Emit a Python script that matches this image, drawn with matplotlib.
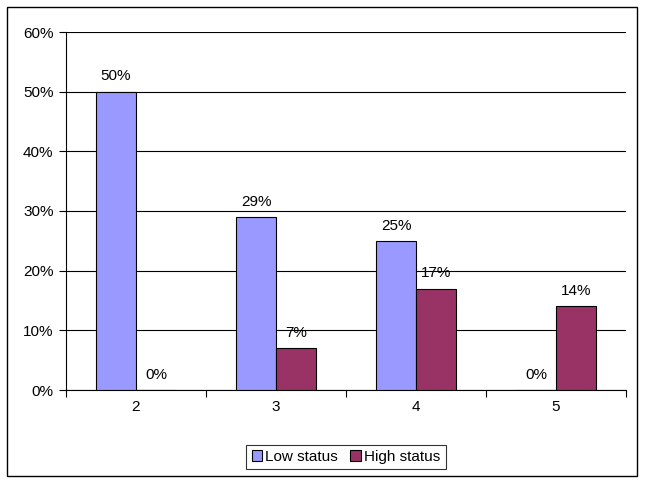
import numpy as np
import matplotlib.pyplot as plt
from matplotlib.patches import Rectangle

plt.rcParams['font.family'] = ['Liberation Sans', 'DejaVu Sans']

categories = ['2', '3', '4', '5']
low_status = [50, 29, 25, 0]
high_status = [0, 7, 17, 14]

fs = 11

fig = plt.figure(figsize=(6.45, 4.82), dpi=100)
ax = fig.add_axes([66/645, 1-390/482, 560/645, 358/482])

x = np.arange(len(categories))
w = 2/7
b1 = ax.bar(x - w/2, low_status, w, color='#9999FF', edgecolor='black', linewidth=0.8, label='Low status', zorder=3)
b2 = ax.bar(x + w/2, high_status, w, color='#993366', edgecolor='black', linewidth=0.8, label='High status', zorder=3)

for bars in (b1, b2):
    for r in bars:
        h = r.get_height()
        ax.annotate(f'{h:.0f}%', (r.get_x() + r.get_width()/2, h), xytext=(0, 6),
                    textcoords='offset points', ha='center', va='bottom', fontsize=fs)

ax.set_xlim(-0.5, 3.5)
ax.set_ylim(0, 60)
ax.set_yticks(range(0, 61, 10))
ax.set_yticklabels([f'{v}%' for v in range(0, 61, 10)], fontsize=fs)
ax.yaxis.grid(True, color='black', linewidth=0.8, zorder=0)
ax.set_axisbelow(True)

ax.set_xticks(x)
ax.set_xticklabels(categories, fontsize=fs)
ax.tick_params(axis='x', length=0, pad=7)
ax.set_xticks(np.arange(-0.5, 4, 1), minor=True)
ax.tick_params(axis='x', which='minor', length=5, direction='out', width=0.8)
ax.tick_params(axis='y', length=5, direction='out', width=0.8, pad=4)

for s in ('top', 'right'):
    ax.spines[s].set_visible(False)
for s in ('left', 'bottom'):
    ax.spines[s].set_linewidth(0.8)

leg = fig.legend(loc='center', bbox_to_anchor=(346/645, 1-457/482), ncol=2, fontsize=fs,
                 frameon=True, fancybox=False, edgecolor='black', handlelength=0.7, handleheight=0.7,
                 handletextpad=0.2, columnspacing=0.8, borderpad=0.35)
leg.get_frame().set_linewidth(0.8)

fig.patches.append(Rectangle((7/645, 1-476/482), 630/645, 469/482, transform=fig.transFigure,
                             fill=False, edgecolor='black', linewidth=1))

fig.savefig('out.png', dpi=100)
